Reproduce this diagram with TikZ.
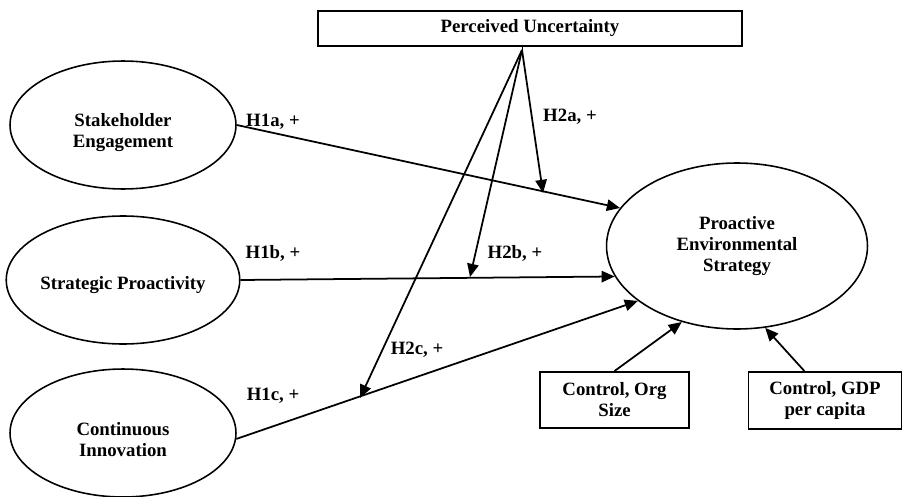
\documentclass[tikz,border=0pt]{standalone}
\usepackage{fontspec}
\setmainfont{Liberation Serif}
\usetikzlibrary{shapes.geometric,arrows.meta}

\newcommand{\lowertext}[2]{\raisebox{-#1}[\height][\depth]{\begin{tabular}{@{}c@{}}#2\end{tabular}}}

\begin{document}
\begin{tikzpicture}[
    x=0.02cm, y=-0.02cm,
    every node/.style={align=center, font=\fontsize{10.7}{12}\selectfont\bfseries},
    construct/.style={ellipse, draw=black, line width=0.9pt, inner sep=0pt, minimum width=4.52cm, minimum height=2.56cm},
    outcome/.style={construct, minimum width=5.22cm, minimum height=3.32cm},
    box/.style={rectangle, draw=black, line width=1.1pt, inner sep=0pt},
    arrow/.style={-{Triangle[length=7.5pt,width=6.5pt]}, line width=1pt},
    hyp/.style={inner sep=1pt}
]
\useasboundingbox (0,0) rectangle (903,497);

% Constructs
\node[construct] (se) at (123, 125) {\lowertext{4.5pt}{Stakeholder\\Engagement}};
\node[construct] (sp) at (123, 280) {\lowertext{3pt}{Strategic Proactivity}};
\node[construct] (ci) at (123, 433) {\lowertext{5pt}{Continuous\\Innovation}};
\node[outcome] (pes) at (737, 246) {Proactive\\Environmental\\Strategy};

% Moderator and controls
\node[box, minimum width=8.48cm, minimum height=0.7cm] (pu) at (530, 28.5) {Perceived Uncertainty};
\node[box, minimum width=2.98cm, minimum height=1.12cm] (org) at (614.5, 400) {Control, Org\\Size};
\node[box, minimum width=3.06cm, minimum height=1.14cm] (gdp) at (825, 400.5) {Control, GDP\\per capita};

% H1: direct effects
\draw[arrow] (se.east) -- (pes.162);
\draw[arrow] (sp.east) -- (pes.194);
\draw[arrow] (ci.-3) -- (pes.209);
\node[hyp] (h1a) at (273, 122) {H1a, +};
\node[hyp] (h1b) at (273, 253) {H1b, +};
\node[hyp] (h1c) at (273, 396) {H1c, +};

% H2: moderation by perceived uncertainty
\coordinate (apex) at (522, 50);
\coordinate (m2a) at (543, 193);
\coordinate (m2b) at (470, 277);
\coordinate (m2c) at (360, 398);
\draw (pu.south -| apex) -- (apex);
\draw[arrow] (apex) -- (m2a);
\draw[arrow] (apex) -- (m2b);
\draw[arrow] (apex) -- (m2c);
\node[hyp] (h2a) at (570, 117) {H2a, +};
\node[hyp] (h2b) at (515, 253) {H2b, +};
\node[hyp] (h2c) at (417, 350) {H2c, +};

% Controls
\draw[arrow] (org.north) -- (pes.234);
\draw[arrow] (gdp.125) -- (pes.289);

\end{tikzpicture}
\end{document}
